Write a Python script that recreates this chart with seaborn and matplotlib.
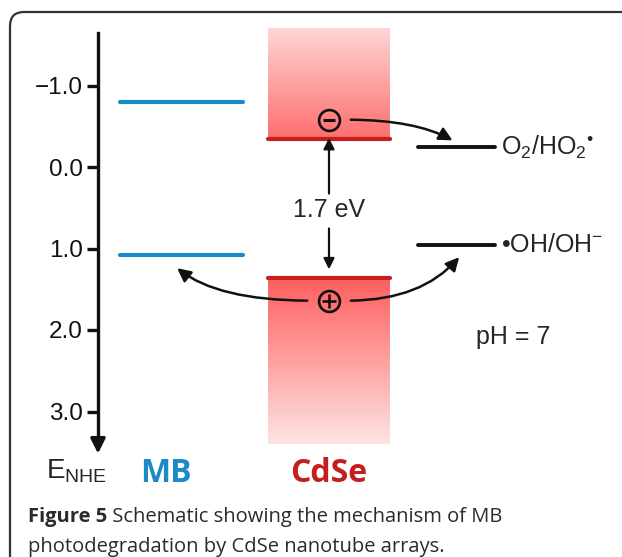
import matplotlib
matplotlib.use("Agg")

import numpy as np
import pandas as pd
import matplotlib.pyplot as plt
import seaborn as sns
from matplotlib.patches import FancyArrowPatch, FancyBboxPatch

sns.set_style("white")
plt.rcParams["font.family"] = ["Liberation Sans", "DejaVu Sans"]
plt.rcParams["mathtext.fontset"] = "custom"
plt.rcParams["mathtext.rm"] = "Liberation Sans"
plt.rcParams["mathtext.it"] = "Liberation Sans:italic"

# energies vs NHE (eV)
energy_ticks = [-1.0, 0.0, 1.0, 2.0, 3.0]
tick_labels = ["\u22121.0", "0.0", "1.0", "2.0", "3.0"]
mb_levels = [-0.8, 1.08]
cdse_cb = -0.34
cdse_vb = 1.36
cdse_top = -1.7
cdse_bottom = 3.4
redox_levels = [-0.24, 0.96]
redox_labels = ["O$_2$/HO$_2$$^{\u2022}$", "\u2022OH/OH$^{-}$"]
band_gap = "1.7 eV"

W, H = 622, 557
PX_PER_EV = 81.5
Y0 = 167  # pixel row of 0.0 V

fig = plt.figure(figsize=(W / 100, H / 100), dpi=100)

# background axes in pixel units: frame + caption
bg = fig.add_axes([0, 0, 1, 1])
bg.set_xlim(0, W)
bg.set_ylim(H, 0)
bg.axis("off")
bg.add_patch(FancyBboxPatch((10, 12), 660, 600, boxstyle="round,pad=0,rounding_size=14",
                            fc="white", ec="#333333", lw=1.6))
cap_kw = dict(fontsize=14.5, family="Open Sans", color="#2b2b2b", va="bottom")
t1 = bg.text(28, 527, "Figure 5", fontweight="bold", **cap_kw)
bg.annotate(" Schematic showing the mechanism of MB", xy=(1, 0), xycoords=t1, **cap_kw)
bg.text(28, 557, "photodegradation by CdSe nanotube arrays.", **cap_kw)

# main axes: x in pixels, y in eV (inverted)
ax = fig.add_axes([0, 0, 1, 1])
ax.patch.set_alpha(0)
for s in ["top", "right", "bottom"]:
    ax.spines[s].set_visible(False)
ax.spines["left"].set_position(("data", 98))
ax.spines["left"].set_bounds(-1.65, 3.4)
ax.spines["left"].set_linewidth(2.4)
ax.spines["left"].set_color("#111111")
ax.set_xticks([])
ax.set_yticks(energy_ticks)
ax.set_yticklabels(tick_labels, fontsize=17.5)
ax.tick_params(axis="y", direction="out", length=8, width=2.4, pad=3, colors="#111111", left=True)
ax.annotate("", xy=(98, 3.55), xytext=(98, 3.3),
            arrowprops=dict(arrowstyle="-|>", color="#111111", lw=2.4, mutation_scale=22))
ax.text(46, 3.73, r"E$_{\mathrm{NHE}}$", fontsize=20, ha="left", va="center")

# CdSe bands as gradients
grad = np.linspace(0, 1, 200).reshape(-1, 1)
ax.imshow(grad[::-1], extent=(268, 390, cdse_cb, cdse_top), cmap=sns.blend_palette(
    ["#fdd6d6", "#ff6e6e"], as_cmap=True), aspect="auto", origin="lower", zorder=1)
ax.imshow(grad, extent=(268, 390, cdse_bottom, cdse_vb), cmap=sns.blend_palette(
    ["#fde3e3", "#ff5e5e"], as_cmap=True), aspect="auto", origin="lower", zorder=1)

# level segments via seaborn
levels = pd.DataFrame({
    "x": [120, 243, 120, 243, 268, 390, 268, 390, 418, 495, 418, 495],
    "E": [mb_levels[0]] * 2 + [mb_levels[1]] * 2 + [cdse_cb] * 2 + [cdse_vb] * 2
         + [redox_levels[0]] * 2 + [redox_levels[1]] * 2,
    "seg": np.repeat(["mb_lumo", "mb_homo", "cb", "vb", "r1", "r2"], 2),
})
seg_colors = {"mb_lumo": "#1a8ac8", "mb_homo": "#1a8ac8", "cb": "#c41e1e",
              "vb": "#c41e1e", "r1": "#111111", "r2": "#111111"}
seg_widths = {"mb_lumo": 3, "mb_homo": 3, "cb": 3, "vb": 3, "r1": 2.8, "r2": 2.8}
for name, grp in levels.groupby("seg"):
    sns.lineplot(data=grp, x="x", y="E", color=seg_colors[name], lw=seg_widths[name],
                 estimator=None, sort=False, ax=ax, zorder=3)
ax.set_xlabel("")
ax.set_ylabel("")
ax.set_xlim(0, W)
ax.set_ylim((H - Y0) / PX_PER_EV, -Y0 / PX_PER_EV)

for e, lab in zip(redox_levels, redox_labels):
    ax.text(501, e, lab, fontsize=18, va="center", ha="left")

# electron / hole
cx = 329
e_pos = -0.58
h_pos = 1.64
ax.plot([cx, cx], [e_pos, h_pos], ls="none", marker="o", ms=15, mfc="none",
        mec="#111111", mew=1.9, zorder=5)
ax.plot([cx], [e_pos], ls="none", marker="_", ms=9, mew=2.2, color="#111111", zorder=5)
ax.plot([cx], [h_pos], ls="none", marker="+", ms=10, mew=1.9, color="#111111", zorder=5)

# band-gap arrows and label
gap_kw = dict(arrowstyle="-|>", color="#111111", lw=1.6, mutation_scale=16)
ax.annotate("", xy=(cx, cdse_cb - 0.05), xytext=(cx, 0.36), arrowprops=gap_kw)
ax.annotate("", xy=(cx, cdse_vb - 0.07), xytext=(cx, 0.72), arrowprops=gap_kw)
ax.text(cx, 0.53, band_gap, fontsize=18, ha="center", va="center")

# transfer arrows
arrow_kw = dict(arrowstyle="-|>", color="#111111", lw=1.8, mutation_scale=20, zorder=4)
ax.add_patch(FancyArrowPatch((348, e_pos), (455, -0.31),
                             connectionstyle="angle3,angleA=0,angleB=-30", **arrow_kw))
ax.add_patch(FancyArrowPatch((348, h_pos), (461, 1.08),
                             connectionstyle="angle3,angleA=0,angleB=50", **arrow_kw))
ax.add_patch(FancyArrowPatch((310, h_pos), (175, 1.22),
                             connectionstyle="angle3,angleA=0,angleB=-40", **arrow_kw))

ax.text(513, 2.08, "pH = 7", fontsize=18, ha="center", va="center")

# species labels
ax.text(166, 3.76, "MB", fontsize=23, fontweight="bold", family="Open Sans",
        color="#1a8ac8", ha="center", va="center")
ax.text(329, 3.76, "CdSe", fontsize=23, fontweight="bold", family="Open Sans",
        color="#c41e1e", ha="center", va="center")

fig.savefig("out.png", dpi=100)
